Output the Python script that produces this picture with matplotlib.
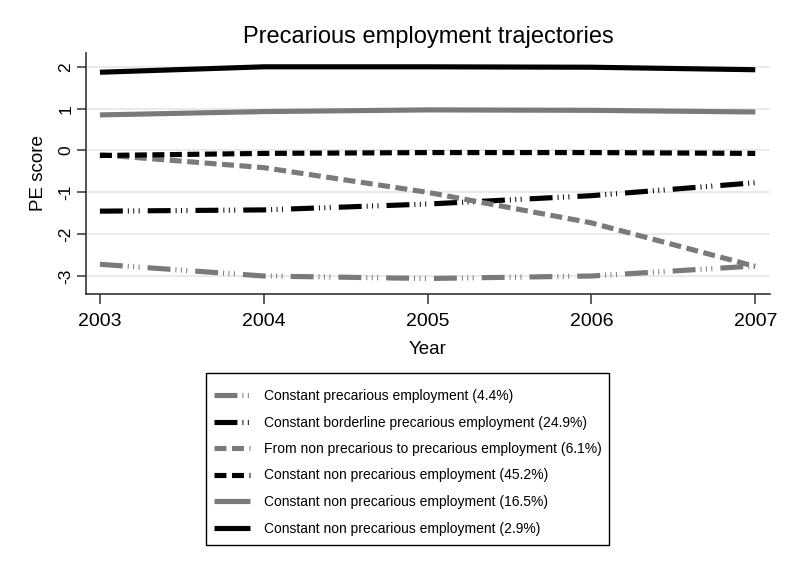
import matplotlib
matplotlib.use("Agg")
import matplotlib.pyplot as plt
from matplotlib.patches import Rectangle

plt.rcParams['font.family'] = ['Liberation Sans', 'DejaVu Sans']
plt.rcParams['lines.scale_dashes'] = False

years = [2003, 2004, 2005, 2006, 2007]
labels = [
    "Constant precarious employment (4.4%)",
    "Constant borderline precarious employment (24.9%)",
    "From non precarious to precarious employment (6.1%)",
    "Constant non precarious employment (45.2%)",
    "Constant non precarious employment (16.5%)",
    "Constant non precarious employment (2.9%)",
]
s_const_prec = [-2.72, -3.0, -3.06, -3.0, -2.76]
s_borderline = [-1.45, -1.42, -1.28, -1.08, -0.77]
s_non_to_prec = [-0.10, -0.41, -1.0, -1.73, -2.77]
s_non_452 = [-0.12, -0.07, -0.05, -0.05, -0.07]
s_non_165 = [0.85, 0.93, 0.97, 0.96, 0.92]
s_non_29 = [1.87, 2.0, 2.0, 1.99, 1.93]
series = [s_const_prec, s_borderline, s_non_to_prec, s_non_452, s_non_165, s_non_29]
yticks = [-3, -2, -1, 0, 1, 2]

grey = '#7a7a7a'
ld3 = (0, (16.5, 3.6, 0.7, 3.2, 0.7, 3.2, 0.7, 5.8))
dash = (0, (8.6, 4.0))
styles = [(grey, ld3), ('black', ld3), (grey, dash), ('black', dash), (grey, '-'), ('black', '-')]

fig = plt.figure(figsize=(7.91, 5.75), dpi=100)
ax = fig.add_axes([86/791, 1-294/575, (770-86)/791, (294-53)/575])

handles = []
for vals, lab, (c, ls) in zip(series, labels, styles):
    h, = ax.plot(years, vals, color=c, linestyle=ls, linewidth=3.7, label=lab,
                 solid_capstyle='butt', dash_capstyle='butt')
    handles.append(h)

ax.set_xlim(2002.915, 2007.09)
ax.set_ylim(-3.43, 2.33)
ax.set_xticks(years)
ax.set_yticks(yticks)
ax.set_yticklabels([str(v) for v in yticks], rotation=90, va='center')
ax.grid(axis='y', color='#e6e6e6', linewidth=1.2)
ax.set_axisbelow(True)
for s in ['top', 'right']:
    ax.spines[s].set_visible(False)
for s in ['left', 'bottom']:
    ax.spines[s].set_color('#333333')
    ax.spines[s].set_linewidth(1.2)
ax.tick_params(axis='x', length=7, width=1.1, color='#333333', labelsize=14, pad=6.5)
ax.tick_params(axis='y', length=6.5, width=1.1, color='#333333', labelsize=12.5, pad=2.5)
ax.set_xlabel('Year', fontsize=13.5, labelpad=8)
ax.set_ylabel('PE score', fontsize=13.5, labelpad=8)
ax.set_title('Precarious employment trajectories', fontsize=17, pad=7)

leg = fig.legend(handles=handles, labels=labels, loc='upper left',
                 bbox_to_anchor=(214/791, 1-389/575), borderaxespad=0,
                 fontsize=10, frameon=False,
                 handlelength=2.6, labelspacing=0.9,
                 borderpad=0, handletextpad=1.0)
fig.patches.append(Rectangle((206/791, 1-545/575), 403/791, 172/575,
                             transform=fig.transFigure, fill=False,
                             edgecolor='black', linewidth=1.0))

fig.savefig('out.png', dpi=100)
